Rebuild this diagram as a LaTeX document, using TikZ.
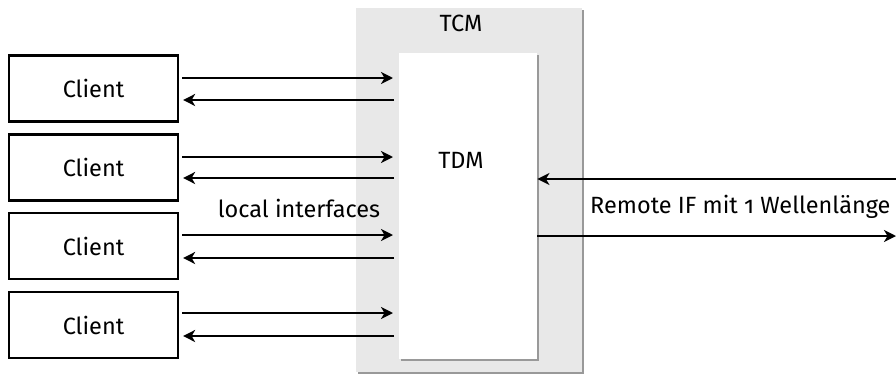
\documentclass[tikz,border=0pt]{standalone}
\usepackage{fontspec}
\setmainfont[Numbers=OldStyle]{Fira Sans}
\usetikzlibrary{arrows.meta,calc}
\begin{document}
\begin{tikzpicture}[x=1pt,y=-1pt,
  every node/.style={font=\fontsize{23.5}{27}\selectfont},
  client/.style={draw=black,line width=2.2pt,fill=white,minimum width=169pt,minimum height=66pt,inner sep=0pt},
  conn/.style={line width=2.6pt,-{Stealth[length=12pt,width=12pt,inset=3.5pt]}},
  lbl/.style={inner sep=0pt}]
\useasboundingbox (0,0) rectangle (896,383);
% TCM
\fill[black!40] (358,10) rectangle (584,374);
\node[fill=black!9,minimum width=226pt,minimum height=364pt,inner sep=0pt,anchor=north west] (tcm) at (356,8) {};
\node[lbl] (tcmlbl) at (461,23) {TCM};
% TDM
\fill[black!40] (401,55) rectangle (539,361);
\node[fill=white,minimum width=138pt,minimum height=306pt,inner sep=0pt,anchor=north west] (tdm) at (399,53) {};
\node[lbl] (tdmlbl) at (461,160) {TDM};
% clients
\node[client] (c1) at (93.5,88.5) {Client};
\node[client] (c2) at (93.5,167.5) {Client};
\node[client] (c3) at (93.5,246) {Client};
\node[client] (c4) at (93.5,325) {Client};
% arrows
\foreach \i/\ya/\yb in {1/78/100,2/157/178,3/235/258,4/313/336}{
  \coordinate (in\i) at (393,\ya);
  \coordinate (out\i) at (394,\yb);
  \draw[conn] ($(c\i.east |- in\i)+(3,0)$) -- (in\i);
  \draw[conn] (out\i) -- ($(c\i.east |- out\i)+(4,0)$);
}
\node[lbl] (local) at (299,208) {local interfaces};
% remote
\coordinate (rin) at (896,179);
\coordinate (rout) at (896,236);
\draw[conn] (rin) -- (tdm.east |- rin);
\draw[conn] (tdm.east |- rout) -- (rout);
\node[lbl,anchor=west] (remote) at (590,207) {Remote IF mit 1 Wellenlänge};
\end{tikzpicture}
\end{document}
